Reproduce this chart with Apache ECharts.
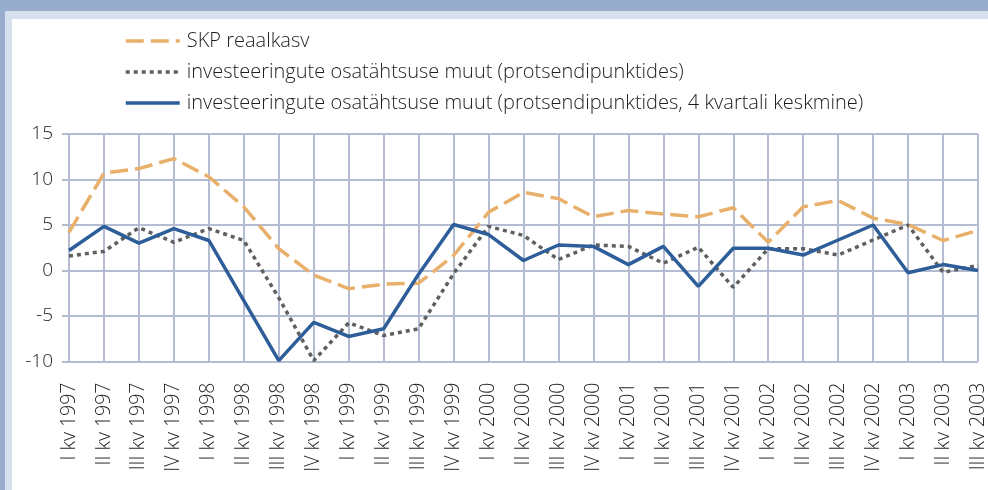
<!DOCTYPE html>
<html>
<head>
<meta charset="utf-8">
<script src="https://cdn.jsdelivr.net/npm/echarts@6/dist/echarts.min.js"></script>
<style>
html,body{margin:0;padding:0;background:#fff;}
#c{width:988px;height:490px;}
</style>
</head>
<body>
<div id="c"></div>
<script>
var categories = ["I kv 1997","II kv 1997","III kv 1997","IV kv 1997",
"I kv 1998","II kv 1998","III kv 1998","IV kv 1998",
"I kv 1999","II kv 1999","III kv 1999","IV kv 1999",
"I kv 2000","II kv 2000","III kv 2000","IV kv 2000",
"I kv 2001","II kv 2001","III kv 2001","IV kv 2001",
"I kv 2002","II kv 2002","III kv 2002","IV kv 2002",
"I kv 2003","II kv 2003","III kv 2003"];

var skpReaalkasv = [4.2,10.7,11.2,12.3,10.3,7.0,2.4,-0.5,-2.0,-1.5,-1.4,1.65,6.4,8.6,7.9,5.9,6.6,6.2,5.9,6.9,3.1,7.0,7.7,5.75,5.05,3.3,4.4];
var investMuut = [1.6,2.1,4.7,3.1,4.6,3.3,-3.0,-9.9,-5.75,-7.15,-6.4,-0.35,4.85,3.85,1.2,2.8,2.65,0.8,2.55,-1.85,2.4,2.4,1.7,3.35,5.0,-0.2,0.55];
var investMuut4kv = [2.2,4.85,3.0,4.6,3.3,-3.3,-9.9,-5.7,-7.25,-6.4,-0.4,5.05,3.95,1.1,2.8,2.65,0.65,2.65,-1.75,2.45,2.45,1.7,3.35,5.0,-0.25,0.65,0.0];

var seriesNames = ["SKP reaalkasv",
"investeeringute osatähtsuse muut (protsendipunktides)",
"investeeringute osatähtsuse muut (protsendipunktides, 4 kvartali keskmine)"];

var yTicks = {min:-10, max:15, interval:5};

var FONT = "'Open Sans'";
var TXT = "#1e1e1e";
var GRIDC = "#b4bcd1";

var chart = echarts.init(document.getElementById('c'), null, {renderer:'canvas'});
chart.setOption({
  animation:false,
  backgroundColor:'#ffffff',
  graphic:[
    {type:'rect', shape:{x:0,y:0,width:988,height:11}, style:{fill:'#98acce'}, z:-10},
    {type:'rect', shape:{x:0,y:0,width:5,height:490}, style:{fill:'#98acce'}, z:-10},
    {type:'rect', shape:{x:5,y:11,width:983,height:8}, style:{fill:'#d6dfec'}, z:-10},
    {type:'rect', shape:{x:5,y:11,width:7,height:479}, style:{fill:'#d6dfec'}, z:-10}
  ],
  legend:{
    orient:'vertical',
    left:124, top:31,
    padding:0,
    itemWidth:54, itemHeight:14,
    itemGap:11,
    itemStyle:{color:'rgba(0,0,0,0)', borderWidth:0, opacity:0},
    lineStyle:{width:3.5},
    textStyle:{fontFamily:FONT, fontSize:20, fontWeight:300, color:TXT, lineHeight:20, padding:[0,0,0,2]},
    data:seriesNames
  },
  grid:{left:69, top:134, width:910, height:227.5, containLabel:false},
  xAxis:{
    type:'category',
    data:categories,
    boundaryGap:false,
    axisLine:{show:true, lineStyle:{color:GRIDC, width:2}},
    axisTick:{show:true, length:3, lineStyle:{color:GRIDC, width:2}},
    axisLabel:{rotate:90, margin:21, fontFamily:FONT, fontSize:19.5, fontWeight:300, color:TXT, interval:0},
    splitLine:{show:true, lineStyle:{color:GRIDC, width:2}}
  },
  yAxis:{
    type:'value',
    min:yTicks.min, max:yTicks.max, interval:yTicks.interval,
    axisLine:{show:false},
    axisTick:{show:true, length:7, lineStyle:{color:GRIDC, width:2}},
    axisLabel:{margin:16, fontFamily:FONT, fontSize:19, fontWeight:300, color:TXT},
    splitLine:{show:true, lineStyle:{color:GRIDC, width:2}}
  },
  series:[
    {name:seriesNames[0], type:'line', data:skpReaalkasv, symbol:'none',
     lineStyle:{color:'#e9b06c', width:3.5, type:[18,7]}, itemStyle:{color:'#e9b06c'}, z:3},
    {name:seriesNames[1], type:'line', data:investMuut, symbol:'none',
     lineStyle:{color:'#5f5f5f', width:3.5, type:[4,4]}, itemStyle:{color:'#5f5f5f'}, z:2},
    {name:seriesNames[2], type:'line', data:investMuut4kv, symbol:'none',
     lineStyle:{color:'#2e5e99', width:3.5, type:'solid'}, itemStyle:{color:'#2e5e99'}, z:4}
  ]
});
</script>
</body>
</html>
